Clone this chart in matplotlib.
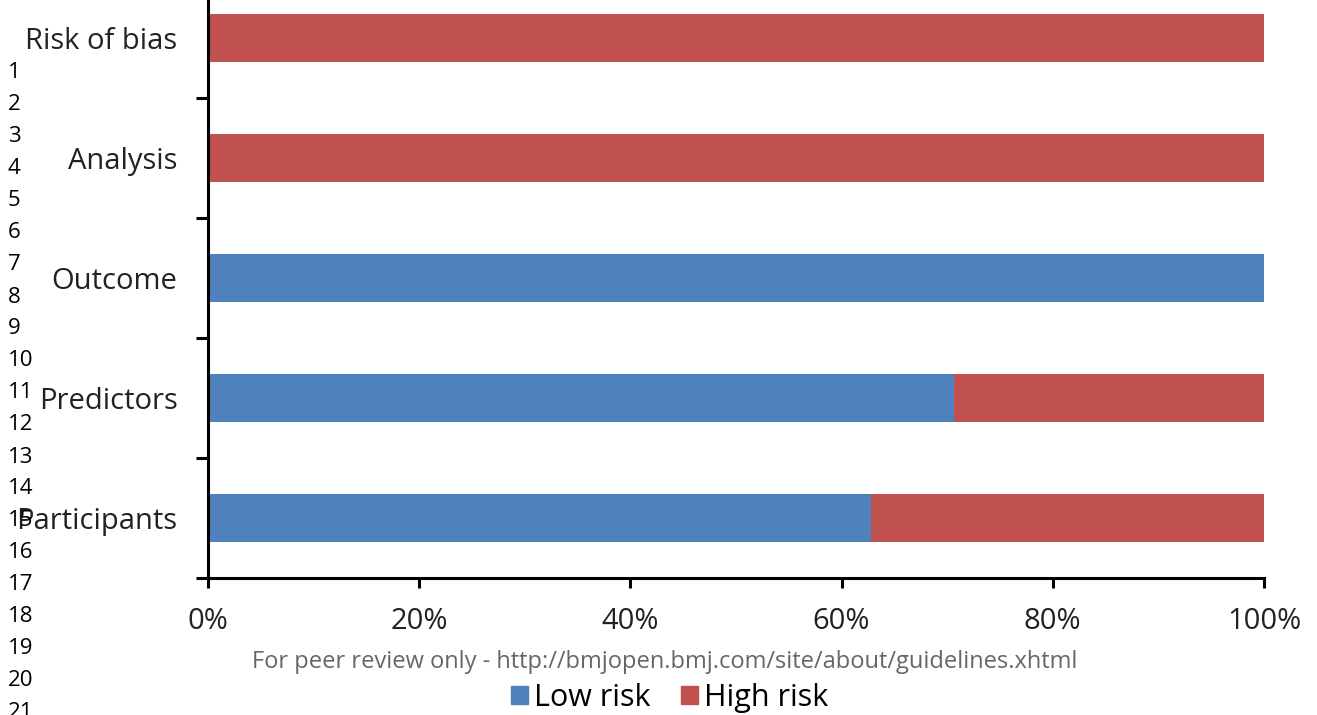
import matplotlib
matplotlib.use("Agg")
import matplotlib.pyplot as plt
from matplotlib.patches import Patch
import numpy as np

categories = ["Participants", "Predictors", "Outcome", "Analysis", "Risk of bias"]
low_risk = [62.8, 70.6, 100.0, 0.0, 0.0]
high_risk = [37.2, 29.4, 0.0, 100.0, 100.0]
xtick_vals = [0, 20, 40, 60, 80, 100]
xtick_labels = ["0%", "20%", "40%", "60%", "80%", "100%"]
line_numbers = list(range(1, 22))
footer = "For peer review only - http://bmjopen.bmj.com/site/about/guidelines.xhtml"

BLUE = "#4F81BD"
RED = "#C0504D"
FONT = ["Open Sans", "DejaVu Sans"]

W, H = 1317, 715
fig = plt.figure(figsize=(W / 100, H / 100), dpi=100)
plt.rcParams['font.family'] = FONT

# axes placement in pixels
x0, x1 = 208, 1264
ybot, ytop = 578, -22
ax = fig.add_axes([x0 / W, (H - ybot) / H, (x1 - x0) / W, (ybot - ytop) / H])

y = np.arange(len(categories))
ax.barh(y, low_risk, height=0.4, color=BLUE, label="Low risk")
ax.barh(y, high_risk, left=low_risk, height=0.4, color=RED, label="High risk")

ax.set_xlim(0, 100)
ax.set_ylim(-0.5, len(categories) - 0.5)
for s in ["top", "right"]:
    ax.spines[s].set_visible(False)
for s in ["left", "bottom"]:
    ax.spines[s].set_linewidth(2.2)
    ax.spines[s].set_color("black")

ax.set_xticks(xtick_vals)
ax.set_xticklabels(xtick_labels, fontsize=21, color="#222222")
ax.tick_params(axis="x", direction="out", length=7, width=2.2, pad=14)

ax.set_yticks(y)
ax.set_yticklabels(categories, fontsize=21, color="#222222")
ax.tick_params(axis="y", which="major", length=0, pad=22)
ax.set_yticks(np.arange(-0.5, len(categories)), minor=True)
ax.tick_params(axis="y", which="minor", direction="out", length=8.5, width=2.2)

# line numbers in margin
for n in line_numbers:
    fig.text(8 / W, 1 - (73 + 32 * (n - 1)) / H, str(n), fontsize=16,
             ha="left", va="center", color="black")

fig.text(665 / W, 1 - 662 / H, footer, fontsize=17, ha="center",
         va="center", color="#666666")

handles = [Patch(color=BLUE, label="Low risk"), Patch(color=RED, label="High risk")]
fig.legend(handles=handles, loc="center", bbox_to_anchor=(670 / W, 1 - 698 / H),
           ncol=2, frameon=False, fontsize=22, handlelength=0.55, handleheight=0.55,
           handletextpad=0.2, columnspacing=1.0, borderaxespad=0, borderpad=0)

fig.savefig("out.png", dpi=100)
